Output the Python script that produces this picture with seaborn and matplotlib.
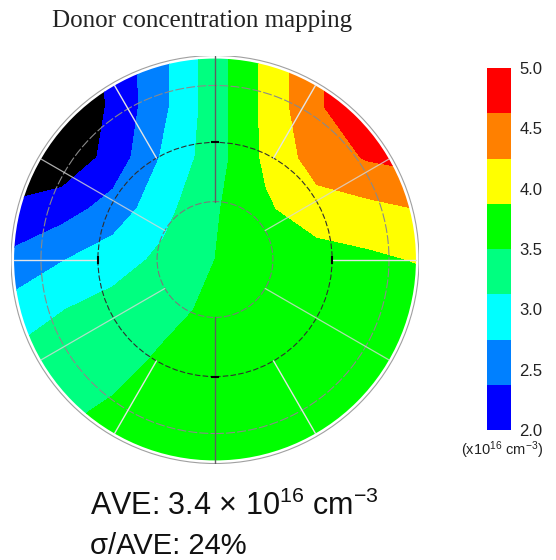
import numpy as np
import matplotlib
matplotlib.use("Agg")
import matplotlib.pyplot as plt
import seaborn as sns
from matplotlib.colors import ListedColormap, BoundaryNorm
from matplotlib.patches import Circle
import matplotlib.cm as cm

# measurement grid over the wafer (wafer radius = 1)
grid_x = [-1.0, -0.75, -0.5, -0.25, 0.0, 0.25, 0.5, 0.75, 1.0]
grid_y = [1.0, 0.75, 0.5, 0.25, 0.0, -0.25, -0.5, -0.75, -1.0]

# donor concentration (x1e16 cm^-3), one list per grid row, top to bottom
row_p100 = [1.4, 1.6, 2.10, 2.68, 3.33, 3.97, 4.58, 4.90, 4.90]
row_p075 = [1.4, 1.6, 2.07, 2.68, 3.33, 3.97, 4.58, 4.90, 4.90]
row_p050 = [1.5, 1.7, 2.14, 2.81, 3.33, 3.95, 4.42, 4.66, 4.75]
row_p025 = [2.1, 2.21, 2.52, 3.01, 3.46, 3.82, 4.10, 4.15, 4.26]
row_000 = [2.45, 2.73, 2.96, 3.21, 3.50, 3.60, 3.70, 3.80, 3.90]
row_m025 = [2.9, 3.12, 3.27, 3.42, 3.56, 3.62, 3.65, 3.65, 3.65]
row_m050 = [3.2, 3.28, 3.40, 3.55, 3.60, 3.62, 3.63, 3.65, 3.65]
row_m075 = [3.35, 3.45, 3.55, 3.60, 3.62, 3.63, 3.63, 3.63, 3.63]
row_m100 = [3.4, 3.50, 3.58, 3.60, 3.62, 3.62, 3.62, 3.62, 3.62]

levels = [2.0, 2.375, 2.75, 3.125, 3.5, 3.875, 4.25, 4.625, 5.0]
band_colors = ["#0000ff", "#0080ff", "#00ffff", "#00ff80",
               "#00ff00", "#ffff00", "#ff8000", "#ff0000"]
cbar_ticks = [2.0, 2.5, 3.0, 3.5, 4.0, 4.5, 5.0]

# radii of the measurement rings
ring_radii = [0.284, 0.574, 0.853]

sns.set_theme(style="white")
plt.rcParams["font.family"] = ["Liberation Sans", "DejaVu Sans"]
plt.rcParams["mathtext.fontset"] = "custom"
plt.rcParams["mathtext.rm"] = "Liberation Sans"
plt.rcParams["mathtext.it"] = "Liberation Sans:italic"

W, H = 556, 560
fig = plt.figure(figsize=(W / 100, H / 100), dpi=100)
fig.patch.set_facecolor("white")

ax = fig.add_axes([11 / W, 1 - 463.5 / H, 408 / W, 408 / H])
ax.set_xlim(-1, 1)
ax.set_ylim(-1, 1)
ax.axis("off")

X, Y = np.meshgrid(grid_x, grid_y)
Z = np.array([row_p100, row_p075, row_p050, row_p025, row_000,
              row_m025, row_m050, row_m075, row_m100])

cs = ax.contourf(X, Y, Z, levels=[0.0] + levels + [9.0],
                 colors=["black"] + band_colors + ["#ff0000"])
clip = Circle((0, 0), 0.985, transform=ax.transData)
cs.set_clip_path(clip)

# wafer outline and rings
ax.add_patch(Circle((0, 0), 1.0, fill=False, ec="#a0a0a0", lw=0.8))
ax.add_patch(Circle((0, 0), ring_radii[0], fill=False, ec="#7a7a7a", lw=0.8, ls=(0, (6, 2))))
ax.add_patch(Circle((0, 0), ring_radii[1], fill=False, ec="#303030", lw=0.8, ls=(0, (5, 2))))
ax.add_patch(Circle((0, 0), ring_radii[2], fill=False, ec="#8a8a8a", lw=0.8, ls=(0, (8, 2))))

# radial lines
for ang in [90, 270]:
    a = np.deg2rad(ang)
    ax.plot([ring_radii[0] * np.cos(a), np.cos(a)], [ring_radii[0] * np.sin(a), np.sin(a)],
            color="#606060", lw=1.0)
for ang in [0, 180, 60, 120, 240, 300]:
    a = np.deg2rad(ang)
    ax.plot([ring_radii[1] * np.cos(a), 0.985 * np.cos(a)], [ring_radii[1] * np.sin(a), 0.985 * np.sin(a)],
            color="#e4e4e4", lw=1.0)
for ang in [30, 150, 210, 330]:
    a = np.deg2rad(ang)
    ax.plot([ring_radii[0] * np.cos(a), 0.985 * np.cos(a)], [ring_radii[0] * np.sin(a), 0.985 * np.sin(a)],
            color="#d8d8d8", lw=0.9, alpha=0.8)

# small tick marks on the middle ring
r2 = ring_radii[1]
ax.plot([0, 0], [r2, -r2], ls="none", marker="_", ms=6, mew=1.5, color="black")
ax.plot([r2, -r2], [0, 0], ls="none", marker="|", ms=6, mew=1.5, color="black")

# colour bar
cax = fig.add_axes([487 / W, 1 - 430 / H, 24 / W, 362 / H])
sm = cm.ScalarMappable(norm=BoundaryNorm(levels, len(band_colors)),
                       cmap=ListedColormap(band_colors))
cb = fig.colorbar(sm, cax=cax, ticks=cbar_ticks)
cb.outline.set_visible(False)
cb.ax.minorticks_off()
cb.ax.tick_params(which="both", length=0, labelsize=12, pad=6, colors="#222222")
cb.ax.set_yticklabels([f"{t:.1f}" for t in cbar_ticks])

fig.text(502 / W, 1 - 450 / H, r"(x10$^{16}$ cm$^{-3}$)", ha="center", va="center",
         fontsize=10.5, color="#222222")

fig.text(202 / W, 1 - 21 / H, "Donor concentration mapping", ha="center", va="center",
         family=["Liberation Serif", "DejaVu Serif"], fontsize=18, color="#222222")

fig.text(90 / W, 1 - 515 / H, r"AVE: 3.4 × 10$^{16}$ cm$^{-3}$", ha="left", va="baseline",
         fontsize=22, color="#111111")
fig.text(90 / W, 1 - 554 / H, "σ/AVE: 24%", ha="left", va="baseline",
         fontsize=21, color="#111111")

fig.savefig("out.png", dpi=100)
